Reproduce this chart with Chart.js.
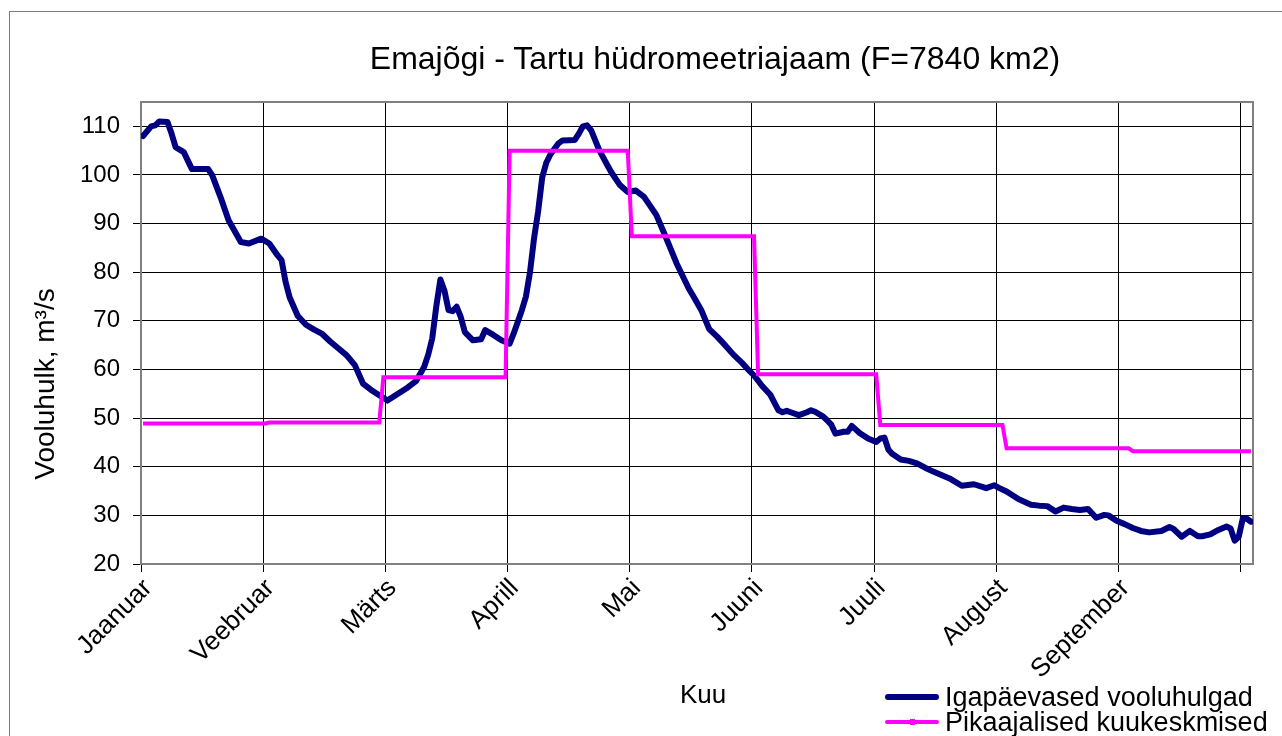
<!DOCTYPE html>
<html>
<head>
<meta charset="utf-8">
<script src="https://cdn.jsdelivr.net/npm/chart.js@4.4.1/dist/chart.umd.min.js"></script>
<style>
  html, body { margin:0; padding:0; background:#fff; }
  body { width:1282px; height:736px; overflow:hidden; position:relative; font-family:"Liberation Sans", Arial, sans-serif; color:#000; }
  #frame { position:absolute; left:9px; top:11px; width:1400px; height:900px; border:1px solid #808080; box-sizing:border-box; }
  #c { position:absolute; left:0; top:0; }
  .t { position:absolute; white-space:nowrap; line-height:1; }
  #title { left:0; width:1430px; text-align:center; top:42px; font-size:32px; }
  #ytitle { width:300px; text-align:center; font-size:28px; left:-105px; top:370px; transform:rotate(-90deg); transform-origin:150px 14px; }
  #xtitle { left:680px; top:681px; font-size:26px; }
  .lg { position:absolute; left:885px; height:25px; width:420px; font-size:27px; line-height:25px; white-space:nowrap; }
  .lg .ln { position:absolute; left:0; width:54px; border-radius:3px; }
  .lg .tx { position:absolute; left:60px; top:0; }
</style>
</head>
<body>
<div id="frame"></div>
<canvas id="c" width="1282" height="736"></canvas>
<div class="t" id="title">Emajõgi - Tartu hüdromeetriajaam (F=7840 km2)</div>
<div class="t" id="ytitle">Vooluhulk, m³/s</div>
<div class="t" id="xtitle">Kuu</div>
<div class="lg" style="top:685px;"><div class="ln" style="top:9px;height:6px;background:#000080;"></div><div class="tx">Igapäevased vooluhulgad</div></div>
<div class="lg" style="top:710px;"><div class="ln" style="top:10px;height:4px;background:#ff00ff;"></div><div class="ln" style="top:9px;left:25px;width:5px;height:6px;background:#ff00ff;border-radius:0"></div><div class="tx">Pikaajalised kuukeskmised</div></div>
<script>
// ---- data ----
const monthLabels = ['Jaanuar','Veebruar','Märts','Aprill','Mai','Juuni','Juuli','August','September',''];
const xTicks = [-0.5, 29.5, 59.5, 89.5, 119.5, 149.5, 179.5, 209.5, 239.5, 269.5];
const yTicks = [20, 30, 40, 50, 60, 70, 80, 90, 100, 110];

// day of year (0 = 1 January) and daily discharge, m3/s
const flowDays = [0,2,3,4,6,7,8,10,12,16,17,19,21,24,26,29,31,33,34,35,36,38,40,42,44,46,48,50,52,54,56,58,60,62,65,67,69,70,71,72,73,74,75,76,77,78,79,81,83,84,86,88,90,91,93,94,95,96,97,98,99,100,102,103,106,107,108,109,110,112,114,115,117,119,121,123,126,128,131,134,135,137,139,141,143,145,147,149,150,152,154,155,156,157,158,159,161,163,164,165,167,168,169,170,172,173,174,176,178,180,181,182,183,184,186,188,190,192,194,196,198,201,204,207,209,210,212,215,218,220,222,224,226,228,230,232,234,236,237,239,241,243,245,247,250,252,253,255,257,259,260,262,264,266,267,268,269,270,271,272];
const flowValues = [108.0,110.0,110.2,111.0,110.9,108.5,105.7,104.7,101.2,101.2,99.9,95.5,90.7,86.2,85.9,86.9,85.9,83.5,82.5,78.0,74.8,71.0,69.2,68.2,67.3,65.7,64.3,62.9,60.9,57.1,55.8,54.7,53.6,54.7,56.3,57.6,60.5,63.0,66.4,73.0,78.5,76.2,72.2,72.0,72.9,70.8,67.7,66.0,66.2,68.1,67.1,66.0,65.3,67.4,72.2,75.0,80.0,87.0,92.5,99.5,102.5,104.2,106.5,107.1,107.2,108.5,110.0,110.2,109.2,105.1,102.0,100.5,98.0,96.5,96.8,95.5,91.8,87.9,81.8,76.6,75.2,72.3,68.3,66.7,64.9,63.0,61.4,59.6,58.8,56.6,54.8,53.2,51.6,51.2,51.5,51.2,50.6,51.2,51.6,51.3,50.3,49.5,48.6,46.8,47.2,47.2,48.4,46.9,45.8,45.1,45.8,46.0,43.5,42.6,41.5,41.2,40.7,39.8,39.0,38.3,37.6,36.1,36.4,35.6,36.2,35.7,34.9,33.3,32.2,32.0,31.9,30.8,31.6,31.3,31.1,31.3,29.5,30.1,30.0,28.9,28.2,27.4,26.8,26.5,26.8,27.6,27.2,25.6,26.8,25.7,25.7,26.1,27.0,27.7,27.3,24.8,25.6,29.4,29.3,28.7];

// long-term monthly means (Jan..Sep) and month lengths
const monthMeans = [48.9, 49.1, 58.4, 105.0, 87.4, 59.0, 48.6, 43.8, 43.2];
const monthLengths = [31, 28, 31, 30, 31, 30, 31, 31, 30];

// ---- build datasets ----
const dailyPoints = flowDays.map((d, i) => ({ x: d, y: flowValues[i] }));
const meanPoints = [];
let day = 0;
monthMeans.forEach((m, k) => {
  for (let j = 0; j < monthLengths[k]; j++) { meanPoints.push({ x: day, y: m }); day++; }
});

const FONT = '"Liberation Sans", Arial, sans-serif';

const plotBorder = {
  id: 'plotBorder',
  beforeDatasetsDraw(chart) {
    const { ctx, chartArea: a } = chart;
    ctx.save();
    ctx.strokeStyle = '#808080';
    ctx.lineWidth = 2;
    ctx.strokeRect(a.left, a.top, a.right - a.left, a.bottom - a.top);
    ctx.restore();
  }
};

new Chart(document.getElementById('c'), {
  type: 'line',
  data: {
    datasets: [
      { label: 'Igapäevased vooluhulgad', data: dailyPoints, borderColor: '#000080', backgroundColor: '#000080',
        borderWidth: 6, pointRadius: 0, tension: 0, borderJoinStyle: 'round', borderCapStyle: 'round', order: 2 },
      { label: 'Pikaajalised kuukeskmised', data: meanPoints, borderColor: '#ff00ff', backgroundColor: '#ff00ff',
        borderWidth: 4, pointRadius: 0, tension: 0, order: 1 }
    ]
  },
  options: {
    responsive: false,
    animation: false,
    devicePixelRatio: 1,
    layout: { padding: { left: 0, top: 102, right: 29, bottom: 0 } },
    plugins: { legend: { display: false }, title: { display: false }, tooltip: { enabled: false } },
    scales: {
      x: {
        type: 'linear', min: -0.5, max: 272.5, offset: false,
        afterBuildTicks: s => { s.ticks = xTicks.map(v => ({ value: v })); },
        afterFit: s => { s.height = 172; },
        ticks: { autoSkip: false, minRotation: 45, maxRotation: 45, padding: 1, labelOffset: 7, color: '#000',
                 font: { family: FONT, size: 26 }, callback: (v, i) => monthLabels[i] },
        grid: { color: '#000', lineWidth: 1, tickLength: 8, drawTicks: true },
        border: { display: false }
      },
      y: {
        min: 20, max: 115,
        afterBuildTicks: s => { s.ticks = yTicks.map(v => ({ value: v })); },
        afterFit: s => { s.width = 141; },
        ticks: { padding: 13, color: '#000', font: { family: FONT, size: 24 } },
        grid: { color: '#000', lineWidth: 1, tickLength: 8, drawTicks: true },
        border: { display: false }
      }
    }
  },
  plugins: [plotBorder]
});
</script>
</body>
</html>
